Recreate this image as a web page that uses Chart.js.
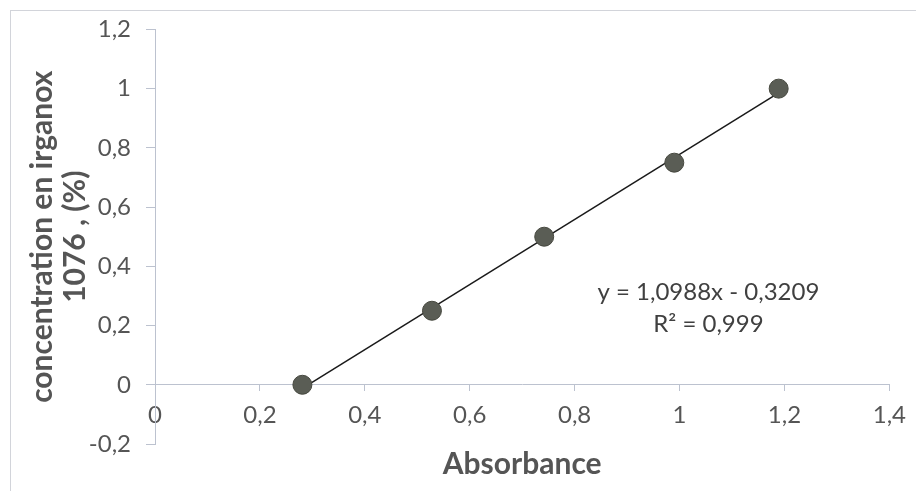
<!DOCTYPE html>
<html>
<head>
<meta charset="utf-8">
<script src="https://cdn.jsdelivr.net/npm/chart.js@4.4.1/dist/chart.umd.min.js"></script>
<style>
    html, body { margin: 0; padding: 0; background: #ffffff; }
    #wrap { width: 916px; height: 491px; position: relative; }
</style>
</head>
<body>
<div id="wrap"><canvas id="calib"></canvas></div>
<script>
// Calibration data: absorbance vs irganox 1076 concentration
const absorbance = [0.281, 0.528, 0.742, 0.990, 1.189];
const concentration = [0, 0.25, 0.5, 0.75, 1.0];

// Linear trendline reported on the chart
const slope = 1.0988;
const intercept = -0.3209;
const rSquared = 0.999;

const xTickValues = [0, 0.2, 0.4, 0.6, 0.8, 1, 1.2, 1.4];
const yTickValues = [-0.2, 0, 0.2, 0.4, 0.6, 0.8, 1, 1.2];

const xTitle = 'Absorbance';
const yTitle = ['concentration en irganox', '1076 , (%)'];

const FONT = 'Lato, "Open Sans", sans-serif';
const axisColor = '#bcc2cf';
const textColor = '#555555';

// decimal comma like the original spreadsheet
const comma = v => String(Math.round(v * 10000) / 10000).replace('.', ',');

const points = absorbance.map((x, i) => ({ x: x, y: concentration[i] }));
const xMin = Math.min(...absorbance), xMax = Math.max(...absorbance);
const trend = [xMin, xMax].map(x => ({ x: x, y: slope * x + intercept }));

const eqLines = [
    'y = ' + comma(slope) + 'x ' + (intercept < 0 ? '- ' : '+ ') + comma(Math.abs(intercept)),
    'R\u00B2 = ' + comma(rSquared)
];

// outer frame, x title and trendline equation
const decorations = {
    id: 'decorations',
    beforeDraw(chart) {
        const ctx = chart.ctx;
        ctx.save();
        ctx.strokeStyle = '#d2d4da';
        ctx.lineWidth = 1;
        ctx.strokeRect(10.5, 10.5, chart.width, chart.height);
        ctx.restore();
    },
    afterDraw(chart) {
        const ctx = chart.ctx;
        const area = chart.chartArea;
        const xs = chart.scales.x, ys = chart.scales.y;
        ctx.save();
        ctx.fillStyle = textColor;
        ctx.textAlign = 'center';
        ctx.textBaseline = 'middle';
        ctx.font = 'bold 30px ' + FONT;
        ctx.fillText(xTitle, (area.left + area.right) / 2, area.bottom + 20);

        ctx.fillStyle = '#404040';
        ctx.font = '24px ' + FONT;
        const ex = xs.getPixelForValue(1.055);
        const ey = ys.getPixelForValue(0.314);
        ctx.fillText(eqLines[0], ex, ey);
        ctx.fillText(eqLines[1], ex, ey + 32);
        ctx.restore();
    }
};

new Chart(document.getElementById('calib').getContext('2d'), {
    type: 'scatter',
    data: {
        datasets: [
            {
                type: 'line',
                label: 'Linéaire',
                data: trend,
                borderColor: '#1a1a1a',
                borderWidth: 1.5,
                pointRadius: 0,
                fill: false,
                order: 2
            },
            {
                label: 'concentration',
                data: points,
                backgroundColor: '#5a5d55',
                borderColor: '#46483f',
                borderWidth: 1,
                pointRadius: 9.5,
                order: 1
            }
        ]
    },
    options: {
        responsive: true,
        maintainAspectRatio: false,
        animation: false,
        layout: { padding: { left: 0, right: 20, top: 26, bottom: 47 } },
        scales: {
            x: {
                type: 'linear',
                position: { y: 0 },
                min: 0,
                max: 1.4,
                afterBuildTicks: scale => { scale.ticks = xTickValues.map(v => ({ value: v })); },
                grid: { drawOnChartArea: false, drawTicks: true, tickLength: 6, color: axisColor },
                border: { color: axisColor, width: 1 },
                ticks: {
                    color: textColor,
                    font: { family: FONT, size: 24 },
                    padding: 10,
                    maxRotation: 0,
                    callback: v => comma(v)
                }
            },
            y: {
                type: 'linear',
                position: 'left',
                min: -0.2,
                max: 1.2,
                afterBuildTicks: scale => { scale.ticks = yTickValues.map(v => ({ value: v })); },
                afterFit: scale => { scale.width = 155; },
                grid: { drawOnChartArea: false, drawTicks: true, tickLength: 9, color: axisColor },
                border: { color: axisColor, width: 1 },
                ticks: {
                    color: textColor,
                    font: { family: FONT, size: 24 },
                    padding: 15,
                    callback: v => comma(v)
                },
                title: {
                    display: true,
                    text: yTitle,
                    color: textColor,
                    font: { family: FONT, size: 30, weight: 'bold', lineHeight: 1.1 },
                    padding: { top: 26, bottom: 0 }
                }
            }
        },
        plugins: {
            legend: { display: false },
            tooltip: { enabled: false }
        }
    },
    plugins: [decorations]
});
</script>
</body>
</html>
